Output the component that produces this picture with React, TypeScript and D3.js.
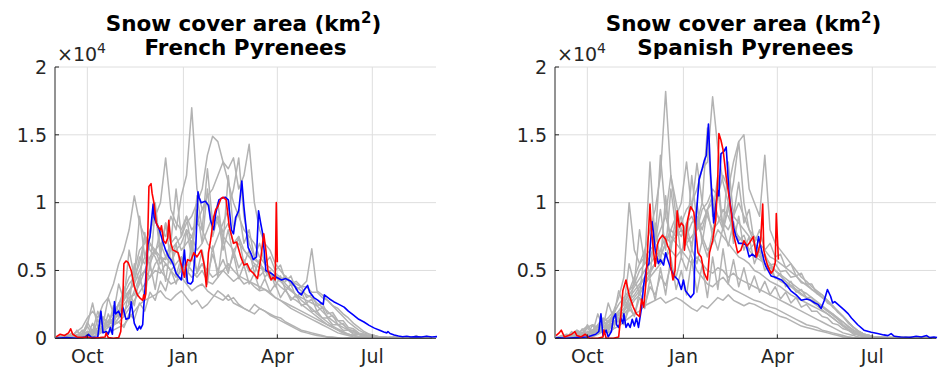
import React, { useRef, useEffect } from "react";
import * as d3 from "d3";

const WIDTH = 947;
const HEIGHT = 389;
const FONT = "'DejaVu Sans', sans-serif";
const STEP = 5; // grey seasons sampled every 5 days from Sep 1

// all values in thousands of km2
const frGray1 = [0,0,0.1,0,0.3,0.2,0.5,0.3,0.8,1.2,0.9,1.5, 2.0,2.8,3.5,4.2,6.0,5.5,7.0,6.2,8.0,7.5,9.0,8.0, 10.5,12.0,17.0,11.0,9.5,10.0,8.5,9.0,7.8,8.5,7.0,7.5, 6.5,6.0,5.8,5.5,5.0,4.8,4.5,4.2,3.8,3.5,3.2,2.8, 2.5,2.2,1.8,1.5,1.2,0.9,0.7,0.5,0.3,0.2,0.15,0.1, 0.05,0.05,0,0.1,0,0,0.05,0,0,0.1,0,0,0.05];
const frGray2 = [0,0.1,0,0,0.2,0.1,0.3,0.6,0.4,0.8,1.0,1.3, 1.8,2.5,3.0,3.2,4.0,5.0,4.5,5.5,6.0,5.8,6.5,7.0, 7.5,8.5,9.0,10.0,11.0,13.5,14.9,14.5,13.0,11.5,10.0,9.0, 8.0,7.5,7.0,6.0,5.5,5.2,4.8,4.5,4.0,3.6,3.2,3.0, 2.8,2.6,2.4,2.0,1.6,1.3,1.0,0.8,0.6,0.4,0.3,0.2, 0.1,0.1,0.05,0,0.1,0,0,0.05,0,0.2,0,0,0.05];
const frGray3 = [0,0,0.2,0.1,0,0.4,1.0,2.6,0.8,1.5,1.2,2.0, 2.5,3.5,4.5,5.0,6.5,7.0,8.0,9.0,10.0,13.3,9.5,8.5, 8.0,9.0,8.0,8.5,9.5,10.5,11.0,12.0,13.0,12.5,13.3,11.0, 12.0,14.3,10.0,8.0,7.0,6.5,5.5,5.0,4.5,4.0,3.8,3.5, 3.2,3.0,2.6,2.3,2.0,1.6,1.3,1.0,0.7,0.5,0.3,0.2, 0.1,0.05,0,0,0.1,0.05,0,0,0.1,0,0,0.05,0];
const frGray4 = [0,0,0,0,0.1,0,0.2,0.1,0.3,0.5,0.4,0.6, 0.8,1.0,1.5,2.0,2.5,2.8,3.0,3.2,3.5,3.0,2.8,3.2, 3.5,3.0,2.5,2.8,2.2,2.5,3.0,3.5,3.2,2.8,3.0,2.5, 2.2,2.0,2.5,2.2,2.0,1.8,1.6,1.5,1.2,1.0,0.8,0.6, 0.5,0.4,0.3,0.2,0.1,0.1,0.05,0,0,0,0.05,0, 0,0,0,0.05,0,0,0,0,0,0,0.05,0,0];
const frGray5 = [0,0.1,0.3,0.2,0.5,0.8,1.5,2.0,1.5,2.5,3.0,4.0, 5.5,6.5,8.0,10.5,8.5,7.5,7.0,6.5,6.0,5.5,5.0,5.5, 6.0,5.0,4.5,4.8,5.5,5.0,4.5,4.8,5.0,4.6,4.2,4.5, 4.0,4.2,3.8,3.5,3.6,3.3,3.0,2.8,2.5,2.2,2.0,1.8, 1.6,1.4,1.2,1.0,0.8,0.6,0.4,0.3,0.2,0.1,0.05,0, 0,0.05,0,0,0,0.1,0,0,0,0.05,0,0,0];
const frGray6 = [0,0,0,0.1,0,0.2,0.5,0.3,0.8,0.6,1.0,1.5, 2.0,3.0,3.5,4.0,5.0,6.0,5.5,6.5,7.0,6.0,5.5,6.5, 7.0,8.0,7.5,6.5,7.0,8.0,9.0,8.5,7.5,7.0,6.5,7.0, 6.5,6.0,5.5,5.2,5.0,4.8,4.6,4.4,4.5,4.2,4.0,3.8, 4.2,6.6,3.5,3.2,2.8,2.4,2.0,1.6,1.2,0.9,0.6,0.4, 0.3,0.2,0.1,0.1,0.05,0,0.1,0,0,0.05,0,0.1,0];
const frGray7 = [0,0,0.1,0,0,0.1,0.3,0.2,0.6,0.8,1.2,1.0, 1.5,2.0,2.5,3.5,4.5,5.0,6.0,6.5,5.5,6.0,7.0,7.5, 6.5,7.0,7.5,8.5,8.0,7.0,6.5,7.5,8.5,9.5,11.0,13.3, 9.0,7.0,6.0,5.5,5.0,4.6,4.2,3.8,3.5,3.0,2.8,2.5, 2.2,1.9,1.6,1.3,1.0,0.8,0.6,0.4,0.3,0.2,0.1,0.05, 0,0,0.05,0,0,0,0.05,0,0,0,0,0.05,0];
const frGray8 = [0,0,0,0,0.1,0.2,0.1,0.4,0.3,0.5,0.8,1.0, 1.2,1.6,2.2,2.8,3.4,4.0,4.5,5.0,4.8,5.5,5.0,4.5, 5.0,5.5,5.0,4.5,5.0,4.2,4.0,4.5,5.0,5.5,5.0,4.6, 4.4,4.2,4.0,3.8,3.6,3.4,3.0,2.8,2.6,2.4,2.2,2.0, 1.8,1.6,1.4,1.2,1.0,0.8,0.6,0.4,0.3,0.2,0.1,0.1, 0.05,0,0,0,0.05,0,0,0,0,0.05,0,0,0.1];
const frGray9 = [0,0,0.1,0.2,0.1,0.3,0.4,0.6,0.5,0.9,1.3,1.8, 2.5,3.2,4.0,4.5,5.5,7.5,6.5,6.0,5.0,4.5,4.0,4.2, 4.5,4.0,3.5,3.8,4.0,3.5,3.2,3.0,2.8,3.2,2.6,2.4, 2.2,2.0,1.8,2.2,2.0,1.7,1.5,1.3,1.1,0.9,0.7,0.5, 0.4,0.3,0.2,0.15,0.1,0.05,0,0,0.05,0,0,0, 0,0,0,0,0,0.05,0,0,0,0,0,0,0];
const frGray10 = [0,0.2,0,0.4,0.1,0.6,0.2,1.1,0.4,1.6,0.8,2.4, 1.5,3.8,2.5,5.5,4.0,7.8,5.0,9.5,6.0,8.5,5.5,7.0, 5.0,8.0,6.0,9.5,7.0,11.0,7.5,9.0,6.5,8.0,6.0,7.5, 5.5,6.5,4.8,5.8,4.5,5.0,3.8,4.6,3.5,4.0,3.0,3.4, 2.6,2.9,2.0,2.3,1.5,1.7,1.0,1.1,0.6,0.6,0.3,0.3, 0.15,0.2,0,0.1,0,0.2,0,0.05,0,0.1,0,0.15,0];
const frGray11 = [0,0,0.3,0,0.6,0.1,0.9,0.2,1.4,0.5,1.8,0.9, 2.6,1.6,3.5,2.4,4.6,3.0,5.5,3.6,6.2,4.2,7.0,4.6, 6.0,4.2,7.2,4.8,6.5,4.0,6.8,4.5,7.5,5.0,6.2,4.4, 5.4,4.0,4.8,3.6,4.4,3.4,4.0,3.0,3.6,2.8,3.2,2.4, 2.6,2.0,2.0,1.5,1.5,1.0,1.0,0.6,0.6,0.3,0.3,0.1, 0.1,0,0.1,0,0.05,0,0.1,0,0,0.05,0,0,0.05];
const frGray12 = [0,0.1,0,0.2,0.5,0.2,1.2,0.5,2.0,1.0,3.0,1.8, 4.0,2.8,6.5,4.5,9.0,6.0,7.5,10.0,6.5,8.5,7.0,11.0, 7.5,9.0,6.5,10.5,8.0,12.5,8.5,10.0,7.0,12.0,8.0,9.5, 7.0,8.0,6.0,7.0,5.5,6.0,5.0,5.4,4.2,4.6,3.6,3.8, 3.0,3.2,2.4,2.6,1.8,1.9,1.3,1.3,0.8,0.7,0.4,0.3, 0.2,0.1,0.1,0,0.05,0.1,0,0,0.05,0,0.1,0,0];
const frGray13 = [0,0,0,0.1,0,0.3,0.1,0.5,0.2,0.7,0.4,1.0, 1.2,0.8,1.8,1.4,2.6,2.0,3.4,2.8,4.2,3.5,5.0,4.0, 5.5,4.5,6.0,5.0,5.5,4.6,6.2,5.0,5.8,4.8,6.5,5.2, 5.8,4.9,5.4,4.6,5.0,4.4,4.8,4.2,4.6,4.0,4.2,3.8, 3.8,3.4,3.4,3.0,2.8,2.4,2.2,1.8,1.5,1.1,0.8,0.5, 0.3,0.2,0.1,0.1,0,0.05,0,0.1,0,0,0.05,0,0];

// [day since Sep 1, thousands of km2]
const frBlue = [[0,0],[10,0.05],[20,0],[28,0.1],[31,0.3],[34,0.05],[40,0.1],[43,2.0],[45,0.4],[48,0.5],[50,0.3],[52,0.8],[54,0.3],[56,2.7],[57,1.8],[60,2.0],[62,1.6],[64,2.3],[67,1.4],[70,1.5],[72,2.7],[74,1.6],[75,1.1],[78,0.6],[80,0.9],[81,0.7],[83,1.0],[84,2.3],[86,4.5],[88,6.9],[90,7.5],[93,9.9],[94,8.9],[96,8.5],[99,8.0],[102,7.2],[105,6.5],[108,6.0],[110,5.8],[112,5.5],[115,4.8],[117,4.6],[120,4.3],[121,5.0],[123,6.5],[124,5.5],[126,4.1],[129,4.0],[131,4.2],[134,7.0],[136,10.8],[137,10.4],[139,10.0],[143,10.1],[146,9.8],[148,8.7],[151,8.0],[153,9.2],[156,10.2],[158,10.3],[162,10.4],[165,10.2],[168,8.0],[170,7.7],[172,8.9],[175,9.4],[178,11.6],[180,9.7],[184,6.7],[187,6.2],[189,5.8],[192,6.0],[194,9.4],[196,8.5],[198,7.7],[201,5.0],[206,4.8],[211,4.5],[216,4.3],[220,4.4],[225,4.2],[229,3.8],[232,3.4],[235,3.2],[238,3.6],[241,3.9],[243,3.4],[247,3.0],[251,2.8],[254,2.6],[256,2.5],[257,3.2],[262,2.9],[266,2.7],[271,2.5],[276,2.3],[280,2.0],[285,1.7],[290,1.4],[295,1.2],[300,0.95],[305,0.75],[310,0.6],[314,0.47],[317,0.4],[318,0.5],[320,0.35],[324,0.25],[328,0.17],[332,0.12],[336,0.15],[340,0.1],[345,0.12],[350,0.1],[355,0.15],[360,0.1],[365,0.12]];
const frRed = [[0,0.1],[4,0.3],[8,0.2],[12,0.4],[14,0.7],[16,0.3],[20,0.1],[25,0.05],[30,0.1],[35,0],[42,0.05],[47,0.1],[48,0.4],[50,0.05],[55,0],[60,0.05],[62,0.5],[64,3.0],[65,5.5],[67,5.7],[69,5.6],[72,5.0],[75,3.8],[78,3.2],[80,3.0],[83,2.8],[84,3.2],[85,2.9],[86,3.3],[88,8.0],[89,11.2],[91,11.4],[92,10.7],[94,9.9],[96,8.5],[98,8.2],[100,8.0],[101,8.3],[103,7.2],[105,7.0],[107,7.4],[108,8.7],[110,7.0],[112,6.5],[115,6.4],[117,6.3],[120,5.4],[123,4.5],[124,5.2],[126,5.8],[129,5.7],[132,6.3],[135,6.0],[139,6.5],[142,5.4],[144,3.8],[146,6.3],[148,7.2],[151,8.9],[153,9.5],[155,9.7],[158,10.3],[160,10.4],[163,10.2],[166,8.2],[170,7.0],[173,7.1],[177,6.0],[180,5.4],[183,5.5],[186,5.0],[189,4.8],[193,4.4],[196,5.8],[199,7.7],[201,6.5],[203,5.0],[206,4.3],[208,4.5],[210,4.3],[211,10.0],[212,5.6]];

const esGray1 = [0,0.1,0.2,0,0.4,0.2,0.5,0.3,0.6,0.8,1.2,1.5, 2.0,2.5,3.5,4.5,5.5,6.5,8.0,9.5,12.0,18.2,12.0,9.0, 8.0,7.5,7.0,8.5,7.5,6.5,7.0,8.0,7.5,7.0,6.5,6.0, 5.8,5.5,5.0,4.8,4.5,4.2,4.0,3.8,3.5,3.2,3.0,2.8, 2.6,2.4,2.2,2.0,1.8,1.5,1.2,0.9,0.6,0.4,0.3,0.2, 0.1,0.05,0.1,0,0.05,0,0.1,0,0,0.05,0.1,0,0.05];
const esGray2 = [0,0,0.1,0.3,0.1,0.2,0.4,0.6,0.5,0.8,1.0,1.4, 1.8,2.2,3.0,3.5,4.0,4.5,5.0,5.5,6.0,7.0,8.0,7.5, 8.5,9.5,10.0,11.0,12.5,13.0,17.8,14.0,11.5,10.0,9.0,8.5, 8.0,7.5,7.0,6.5,6.0,5.5,5.0,4.6,4.2,3.9,3.6,3.3, 3.0,2.8,2.6,2.3,2.0,1.7,1.4,1.0,0.7,0.5,0.3,0.2, 0.1,0.1,0,0.05,0,0,0.1,0,0.05,0,0,0.1,0];
const esGray3 = [0,0.2,0,0.1,0.5,0.3,0.2,0.6,0.4,0.9,0.7,1.1, 1.5,2.0,2.8,3.2,3.8,4.5,5.0,5.5,6.5,7.5,7.0,8.0, 7.5,8.5,9.0,8.0,9.5,10.0,11.0,10.5,12.0,11.0,13.0,14.5, 15.0,11.0,10.0,9.0,13.5,8.0,7.0,6.5,6.0,5.5,5.0,4.5, 4.2,3.8,3.5,3.2,2.8,2.4,2.0,1.6,1.2,0.8,0.5,0.3, 0.2,0.1,0.1,0.05,0,0.1,0,0.05,0,0,0.1,0,0.05];
const esGray4 = [0,0,0,0.1,0,0.1,0.2,0.1,0.3,0.5,0.4,0.7, 0.9,1.2,1.5,1.8,2.0,2.4,2.6,2.8,3.0,2.6,2.8,3.0, 2.8,2.5,2.2,2.0,2.4,2.2,2.6,3.0,2.8,3.2,2.8,2.6, 2.4,2.6,2.5,2.3,2.1,2.0,1.8,1.6,1.5,1.3,1.1,0.9, 0.8,0.7,0.6,0.5,0.4,0.3,0.2,0.1,0.1,0.05,0,0, 0,0,0.05,0,0,0,0,0.05,0,0,0,0,0];
const esGray5 = [0,0.1,0.3,0.2,0.6,0.4,0.8,1.0,0.8,1.2,1.5,2.0, 3.0,4.5,10.0,6.5,5.5,6.0,6.5,7.0,13.5,9.0,7.5,7.0, 6.5,6.0,5.5,6.0,5.5,5.0,4.8,5.2,5.0,4.5,4.8,4.4, 4.2,4.0,3.8,3.6,3.4,3.2,3.0,2.8,2.6,2.4,2.2,2.0, 1.8,1.6,1.4,1.2,1.0,0.8,0.6,0.4,0.3,0.2,0.1,0.05, 0,0.05,0,0,0.1,0,0,0,0.05,0,0,0,0];
const esGray6 = [0,0,0,0.1,0.2,0.1,0.3,0.5,0.4,0.6,0.9,1.2, 1.5,2.0,2.5,3.0,3.5,4.0,4.8,5.5,6.0,7.0,8.0,9.0, 10.0,13.0,9.5,12.9,10.0,9.0,8.0,8.5,9.5,9.0,8.0,7.5, 7.0,6.5,6.0,5.8,5.5,5.2,5.0,4.7,4.4,4.1,3.8,3.5, 3.3,3.0,2.7,2.4,2.1,1.8,1.5,1.2,0.9,0.6,0.4,0.25, 0.15,0.1,0.05,0.1,0,0,0.05,0,0,0.1,0,0,0.05];
const esGray7 = [0,0.1,0,0,0.1,0.3,0.2,0.4,0.7,0.5,0.8,1.0, 1.3,1.8,2.2,2.8,3.2,4.0,4.5,5.0,5.5,6.0,6.5,6.0, 6.5,7.0,7.5,8.0,8.5,9.5,10.5,9.0,8.0,9.5,11.5,14.5, 10.0,8.0,7.0,6.0,5.5,5.0,4.5,4.2,4.0,3.8,3.5,3.2, 3.0,2.7,2.4,2.1,1.8,1.5,1.2,0.9,0.6,0.4,0.2,0.1, 0.1,0.05,0,0,0.05,0,0,0.1,0,0,0.05,0,0];
const esGray8 = [0,0,0.2,0.1,0.3,0.6,0.9,0.5,1.0,1.5,1.2,1.8, 2.5,3.0,3.5,4.0,5.0,5.5,6.0,7.0,8.0,9.0,12.0,10.0, 8.0,7.0,6.0,5.0,4.5,4.0,3.8,4.2,4.5,4.0,3.6,3.4, 3.2,3.0,2.8,2.7,2.5,2.3,2.2,2.0,1.8,1.6,1.4,1.2, 1.0,0.9,0.8,0.6,0.5,0.4,0.3,0.2,0.1,0.05,0,0, 0,0,0.05,0,0,0,0.05,0,0,0,0,0.05,0];
const esGray9 = [0,0,0.1,0,0.2,0.4,0.3,0.6,0.8,1.0,1.3,1.6, 2.0,2.6,3.2,3.8,4.4,5.0,5.5,6.0,6.5,6.0,7.0,7.5, 8.0,7.5,8.5,9.0,8.0,9.5,10.0,9.0,8.5,8.0,9.0,10.0, 9.0,8.0,7.5,7.0,6.5,6.0,5.8,5.5,5.2,4.9,4.6,4.2, 3.9,3.6,3.3,3.0,2.7,2.4,2.0,1.6,1.2,0.8,0.5,0.3, 0.2,0.1,0.1,0.05,0,0.05,0,0,0.1,0,0,0.05,0];
const esGray10 = [0,0.2,0,0.5,0.1,0.7,0.2,1.0,0.3,1.4,0.6,2.0, 1.2,3.0,2.0,4.5,3.2,6.5,4.5,8.5,5.5,10.5,6.5,9.0, 6.0,8.5,6.5,10.0,7.0,9.5,7.5,11.0,8.0,10.0,7.0,9.0, 6.5,7.5,5.5,6.5,5.0,5.5,4.4,4.8,3.8,4.2,3.4,3.6, 3.0,3.0,2.5,2.4,2.0,1.8,1.4,1.2,0.8,0.6,0.4,0.2, 0.2,0.1,0,0.1,0,0.15,0,0.05,0,0.1,0,0.1,0];
const esGray11 = [0,0,0.2,0,0.5,0.1,0.8,0.2,1.0,0.4,1.3,0.7, 1.8,1.0,2.6,1.6,3.5,2.2,4.4,2.8,5.2,3.2,6.0,3.6, 5.0,3.2,5.8,3.4,5.4,3.0,6.0,3.6,6.6,4.0,5.8,3.8, 5.2,3.6,4.6,3.4,4.2,3.2,3.8,2.9,3.4,2.6,3.0,2.3, 2.5,2.0,2.0,1.6,1.5,1.1,1.0,0.7,0.6,0.3,0.3,0.1, 0.1,0,0.1,0,0.05,0,0.1,0,0,0.05,0,0,0.05];
const esGray12 = [0,0.1,0,0.3,0.6,0.2,1.0,0.4,1.8,0.8,2.6,1.5, 3.5,2.4,5.5,4.0,8.0,5.5,13.0,7.0,9.5,6.5,11.0,8.0, 9.0,7.0,12.0,8.5,10.0,15.5,9.0,12.0,8.0,13.0,9.0,11.5, 8.5,9.5,7.0,8.0,6.5,7.0,6.0,6.2,5.2,5.5,4.6,4.8, 4.0,4.0,3.3,3.2,2.6,2.4,1.9,1.6,1.1,0.8,0.5,0.3, 0.2,0.1,0.1,0,0.05,0.1,0,0,0.05,0,0.1,0,0];
const esGray13 = [0,0,0,0.2,0,0.4,0.1,0.6,0.3,0.9,0.5,1.2, 1.5,1.1,2.2,1.7,3.0,2.4,3.8,3.2,4.6,3.9,5.4,4.5, 6.0,5.0,6.6,5.5,7.2,6.0,7.8,6.5,8.2,6.8,8.6,7.2, 7.6,6.5,7.0,6.0,6.2,5.4,5.5,4.9,5.0,4.5,4.6,4.1, 4.0,3.6,3.4,3.0,2.8,2.3,2.0,1.6,1.2,0.8,0.5,0.3, 0.2,0.1,0.1,0.05,0,0.05,0,0.1,0,0,0.05,0,0];

const esBlue = [[0,0.05],[10,0],[20,0.05],[30,0.1],[38,0.3],[41,0.5],[43,1.8],[45,0.2],[48,0.6],[50,0.1],[53,0.5],[55,1.5],[57,1.8],[58,1.0],[60,0.8],[62,1.5],[64,1.1],[65,1.8],[67,0.8],[69,1.1],[71,0.8],[73,1.4],[75,0.9],[77,1.5],[79,0.8],[82,2.3],[84,4.0],[87,5.3],[89,5.5],[92,8.6],[93,8.0],[95,6.5],[98,5.5],[100,5.8],[103,5.4],[105,6.3],[107,5.8],[110,5.1],[113,4.6],[117,4.3],[120,3.6],[122,4.3],[124,3.5],[126,3.3],[129,3.0],[132,3.3],[134,8.7],[137,11.7],[140,12.5],[142,13.1],[144,13.5],[146,15.8],[148,12.2],[151,8.5],[153,9.8],[155,10.9],[156,10.5],[158,13.6],[161,13.8],[163,14.1],[166,10.4],[170,8.2],[172,7.6],[175,7.0],[178,7.0],[182,6.9],[185,6.0],[188,6.2],[191,6.0],[194,7.5],[196,6.8],[199,5.8],[201,5.3],[206,4.6],[210,4.5],[216,4.3],[220,4.0],[225,3.5],[230,3.2],[235,2.8],[240,2.9],[244,2.8],[248,2.6],[251,2.5],[254,2.2],[257,2.8],[260,3.6],[263,3.1],[265,2.6],[267,2.7],[270,2.5],[276,2.1],[280,1.8],[283,1.5],[289,1.0],[295,0.6],[302,0.45],[308,0.35],[314,0.25],[318,0.2],[321,0.35],[324,0.15],[330,0.1],[340,0.08],[345,0.15],[350,0.1],[355,0.2],[358,0.05],[362,0.1],[365,0.05]];
const esRed = [[0,0.2],[3,0.4],[5,0.6],[8,0.1],[12,0.2],[15,0.3],[18,0.5],[20,0.2],[24,0.1],[28,0.3],[32,0],[40,0],[45,0.1],[46,0.6],[48,0],[55,0],[60,0.1],[62,1.6],[64,3.5],[67,4.3],[70,3.2],[74,2.3],[77,1.8],[80,1.6],[82,2.9],[84,2.3],[86,4.0],[88,7.0],[90,9.9],[91,8.4],[93,6.7],[95,5.3],[97,6.9],[99,7.3],[102,7.6],[105,7.3],[107,6.8],[109,6.5],[110,5.3],[112,4.3],[114,5.0],[116,9.4],[118,8.2],[120,8.5],[122,8.3],[123,6.5],[126,8.7],[129,9.7],[132,9.3],[136,6.3],[139,6.0],[142,4.8],[145,4.3],[147,6.3],[150,7.2],[153,8.7],[155,12.0],[156,15.1],[158,14.6],[160,13.9],[163,11.9],[168,9.2],[170,7.7],[174,6.3],[177,6.5],[180,7.2],[183,6.8],[185,7.0],[189,7.5],[192,6.0],[194,6.5],[196,7.2],[198,9.9],[199,6.5],[201,5.8],[203,5.3],[206,4.8],[208,5.0],[210,5.6],[211,9.2],[213,5.8]];

const frGrays = [frGray1, frGray2, frGray3, frGray4, frGray5, frGray6, frGray7, frGray8, frGray9, frGray10, frGray11, frGray12, frGray13];
const esGrays = [esGray1, esGray2, esGray3, esGray4, esGray5, esGray6, esGray7, esGray8, esGray9, esGray10, esGray11, esGray12, esGray13];

const seasonStart = new Date(2017, 8, 1);
const monthTicks = [new Date(2017, 9, 1), new Date(2018, 0, 1), new Date(2018, 3, 1), new Date(2018, 6, 1)];
const yTicks = [0, 5000, 10000, 15000, 20000];
const yTickLabels = ["0", "0.5", "1", "1.5", "2"];

const panels = [
  { name: "French Pyrenees", left: 55, grays: frGrays, blue: frBlue, red: frRed },
  { name: "Spanish Pyrenees", left: 555, grays: esGrays, blue: esBlue, red: esRed },
];

const App = () => {
  const svgRef = useRef(null);

  useEffect(() => {
    const svg = d3.select(svgRef.current);
    svg.selectAll("*").remove();

    const plotW = 381;
    const top = 67;
    const bottom = 338.3;
    const axisColor = "#262626";

    const y = d3.scaleLinear().domain([0, 20000]).range([bottom, top]);

    panels.forEach((p) => {
      const x = d3
        .scaleTime()
        .domain([d3.timeDay.offset(seasonStart, -1), d3.timeDay.offset(seasonStart, 364)])
        .range([p.left, p.left + plotW]);

      const g = svg.append("g");

      // grid
      g.selectAll(".ygrid")
        .data(yTicks.slice(1))
        .enter()
        .append("line")
        .attr("x1", p.left)
        .attr("x2", p.left + plotW)
        .attr("y1", (d) => y(d))
        .attr("y2", (d) => y(d))
        .attr("stroke", "#dedede")
        .attr("stroke-width", 1);
      g.selectAll(".xgrid")
        .data(monthTicks)
        .enter()
        .append("line")
        .attr("x1", (d) => x(d))
        .attr("x2", (d) => x(d))
        .attr("y1", top)
        .attr("y2", bottom)
        .attr("stroke", "#dedede")
        .attr("stroke-width", 1);

      const lineDaily = d3
        .line()
        .x((d) => x(d3.timeDay.offset(seasonStart, d[0])))
        .y((d) => y(d[1] * 1000));

      // grey seasons
      p.grays.forEach((vals) => {
        const pts = vals.map((v, i) => [i * STEP, v]);
        g.append("path")
          .attr("d", lineDaily(pts))
          .attr("fill", "none")
          .attr("stroke", "#b3b3b3")
          .attr("stroke-width", 1.5)
          .attr("stroke-linejoin", "round");
      });

      g.append("path")
        .attr("d", lineDaily(p.blue))
        .attr("fill", "none")
        .attr("stroke", "#0000ff")
        .attr("stroke-width", 1.6)
        .attr("stroke-linejoin", "round");
      g.append("path")
        .attr("d", lineDaily(p.red))
        .attr("fill", "none")
        .attr("stroke", "#ff0000")
        .attr("stroke-width", 1.6)
        .attr("stroke-linejoin", "round");

      // axes
      g.append("line")
        .attr("x1", p.left)
        .attr("x2", p.left)
        .attr("y1", top)
        .attr("y2", bottom)
        .attr("stroke", axisColor);
      g.append("line")
        .attr("x1", p.left)
        .attr("x2", p.left + plotW)
        .attr("y1", bottom)
        .attr("y2", bottom)
        .attr("stroke", axisColor);

      g.selectAll(".yt")
        .data(yTicks)
        .enter()
        .append("line")
        .attr("x1", p.left)
        .attr("x2", p.left + 4)
        .attr("y1", (d) => y(d))
        .attr("y2", (d) => y(d))
        .attr("stroke", axisColor);
      g.selectAll(".xt")
        .data(monthTicks)
        .enter()
        .append("line")
        .attr("x1", (d) => x(d))
        .attr("x2", (d) => x(d))
        .attr("y1", bottom)
        .attr("y2", bottom - 4)
        .attr("stroke", axisColor);

      g.selectAll(".ylab")
        .data(yTicks)
        .enter()
        .append("text")
        .attr("x", p.left - 8)
        .attr("y", (d) => y(d))
        .attr("dy", "0.36em")
        .attr("text-anchor", "end")
        .style("font-family", FONT)
        .style("font-size", "19px")
        .style("fill", axisColor)
        .text((d, i) => yTickLabels[i]);

      g.selectAll(".xlab")
        .data(monthTicks)
        .enter()
        .append("text")
        .attr("x", (d) => x(d))
        .attr("y", 363)
        .attr("text-anchor", "middle")
        .style("font-family", FONT)
        .style("font-size", "19px")
        .style("fill", axisColor)
        .text((d) => d3.timeFormat("%b")(d));

      // exponent label
      const ex = g
        .append("text")
        .attr("x", p.left + 2)
        .attr("y", 61)
        .style("font-family", FONT)
        .style("font-size", "19px")
        .style("fill", axisColor);
      ex.append("tspan").text("\u00d710");
      ex.append("tspan").attr("dy", -8).style("font-size", "14px").text("4");

      // title
      const cx = p.left + plotW / 2 - 2;
      const t1 = g
        .append("text")
        .attr("x", cx)
        .attr("y", 31)
        .attr("text-anchor", "middle")
        .style("font-family", FONT)
        .style("font-weight", "bold")
        .style("font-size", "21.5px")
        .style("fill", "#000");
      t1.append("tspan").text("Snow cover area (km");
      t1.append("tspan").attr("dy", -8).style("font-size", "15px").text("2");
      t1.append("tspan").attr("dy", 8).text(")");

      g.append("text")
        .attr("x", cx + 2)
        .attr("y", 55)
        .attr("text-anchor", "middle")
        .style("font-family", FONT)
        .style("font-weight", "bold")
        .style("font-size", "21.5px")
        .style("fill", "#000")
        .text(p.name);
    });
  }, []);

  return (
    <div style={{ position: "absolute", left: 0, top: 0 }}>
      <svg ref={svgRef} width={WIDTH} height={HEIGHT} style={{ display: "block", background: "#fff" }}></svg>
    </div>
  );
};

export default App;
